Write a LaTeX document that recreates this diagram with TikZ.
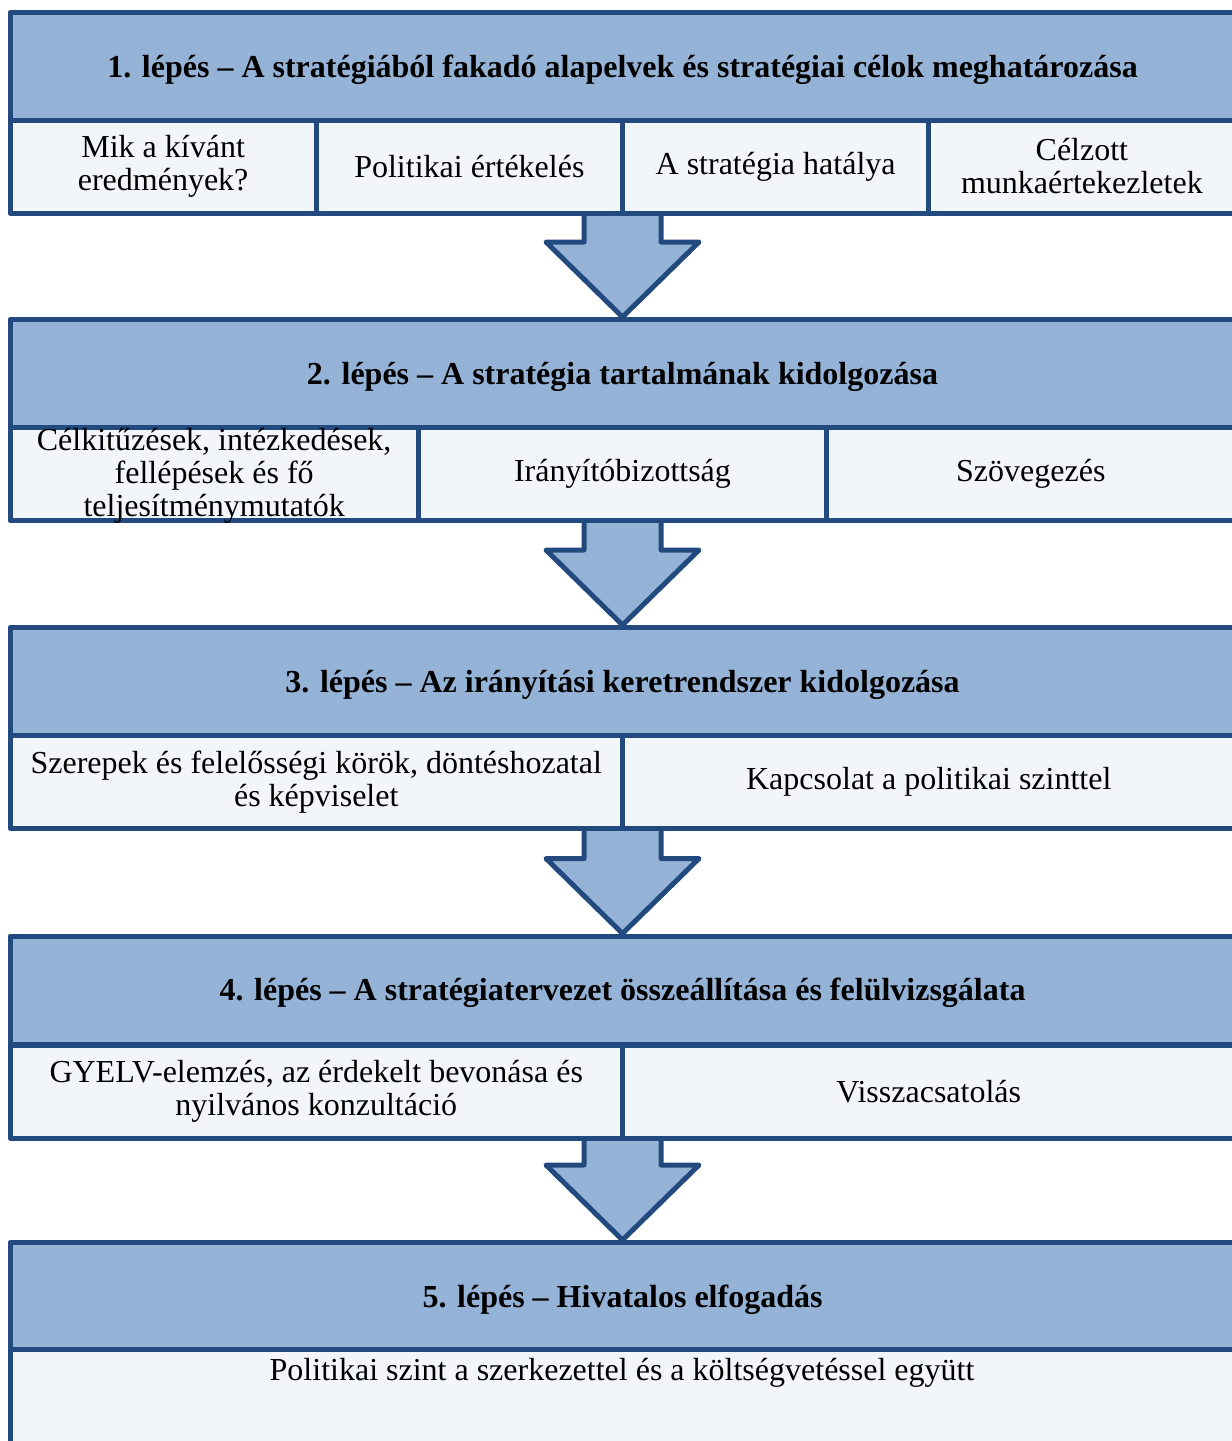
\documentclass[tikz,border=0pt]{standalone}
\usepackage{fontspec}
\setmainfont{Liberation Serif}
\usetikzlibrary{calc,backgrounds}
\definecolor{bordc}{HTML}{224A7E}
\definecolor{hdrc}{HTML}{95B3D7}
\definecolor{cellc}{HTML}{F2F5F9}
\newcommand{\celltextfont}{\fontsize{32}{33}\selectfont}
% title set a little lower than the geometric centre of its band
\newcommand{\steptitle}[1]{\raisebox{-3pt}[\height][\depth]{#1}}
\tikzset{
  hdr/.style={draw=bordc, fill=hdrc, line width=5pt, line join=round,
    minimum width=1225pt, minimum height=108pt, inner sep=0pt,
    font=\bfseries\fontsize{32}{33}\selectfont},
  cell/.style={draw=bordc, fill=cellc, line width=5pt, line join=round,
    minimum height=93pt, inner sep=0pt, align=center,
    font=\celltextfont},
  downarrow/.style={draw=bordc, fill=hdrc, line width=5pt, line join=round}
}
% block arrow whose tip sits on the given node's north anchor
\newcommand{\blockarrow}[1]{%
  \draw[downarrow] (#1.north) -- ++(-76.5,-75) -- ++(38,0) -- ++(0,-32)
    -- ++(77,0) -- ++(0,32) -- ++(38,0) -- cycle;}
\begin{document}
\begin{tikzpicture}[x=1pt,y=-1pt]
\useasboundingbox (0,0) rectangle (1232,1441);

% step 1
\node[hdr] (h1) at (622.5,66.5) {\steptitle{1. lépés – A stratégiából fakadó alapelvek és stratégiai célok meghatározása}};
\node[cell, minimum width=306.25pt] (c11) at (163.125,166.5) {Mik a kívánt\\eredmények?};
\node[cell, minimum width=306.25pt] (c12) at (469.375,166.5) {Politikai értékelés};
\node[cell, minimum width=306.25pt] (c13) at (775.625,166.5) {A stratégia hatálya};
\node[cell, minimum width=306.25pt] (c14) at (1081.875,166.5) {Célzott\\munkaértekezletek};

% step 2
\node[hdr] (h2) at (622.5,373.5) {\steptitle{2. lépés – A stratégia tartalmának kidolgozása}};
\node[cell, minimum width=408.33pt,
  label={[name=t21, align=center, font=\celltextfont, yshift=-2pt]center:Célkitűzések, intézkedések,\\fellépések és fő\\teljesítménymutatók}]
  (c21) at (214.17,474) {};
\node[cell, minimum width=408.33pt] (c22) at (622.5,474) {Irányítóbizottság};
\node[cell, minimum width=408.33pt] (c23) at (1030.83,474) {Szövegezés};

% step 3
\node[hdr] (h3) at (622.5,681.5) {\steptitle{3. lépés – Az irányítási keretrendszer kidolgozása}};
\node[cell, minimum width=612.5pt] (c31) at (316.25,782) {Szerepek és felelősségi körök, döntéshozatal\\és képviselet};
\node[cell, minimum width=612.5pt] (c32) at (928.75,782) {Kapcsolat a politikai szinttel};

% step 4
\node[hdr] (h4) at (622.5,990) {\steptitle{4. lépés – A stratégiatervezet összeállítása és felülvizsgálata}};
\node[cell, minimum width=612.5pt] (c41) at (316.25,1091.5) {GYELV-elemzés, az érdekelt bevonása és\\nyilvános konzultáció};
\node[cell, minimum width=612.5pt] (c42) at (928.75,1091.5) {Visszacsatolás};

% step 5
\node[hdr] (h5) at (622.5,1296.5) {\steptitle{5. lépés – Hivatalos elfogadás}};
\node[cell, minimum width=1225pt, minimum height=94pt] (c51) at (622.5,1396) {};
\node[font=\celltextfont, inner sep=0pt] (t51) at (622,1373) {Politikai szint a szerkezettel és a költségvetéssel együtt};

% arrows between the steps, kept behind the boxes
\begin{scope}[on background layer]
\fill[white] (0,0) rectangle (1232,1441);
\blockarrow{h2}
\blockarrow{h3}
\blockarrow{h4}
\blockarrow{h5}
\end{scope}
\end{tikzpicture}
\end{document}
